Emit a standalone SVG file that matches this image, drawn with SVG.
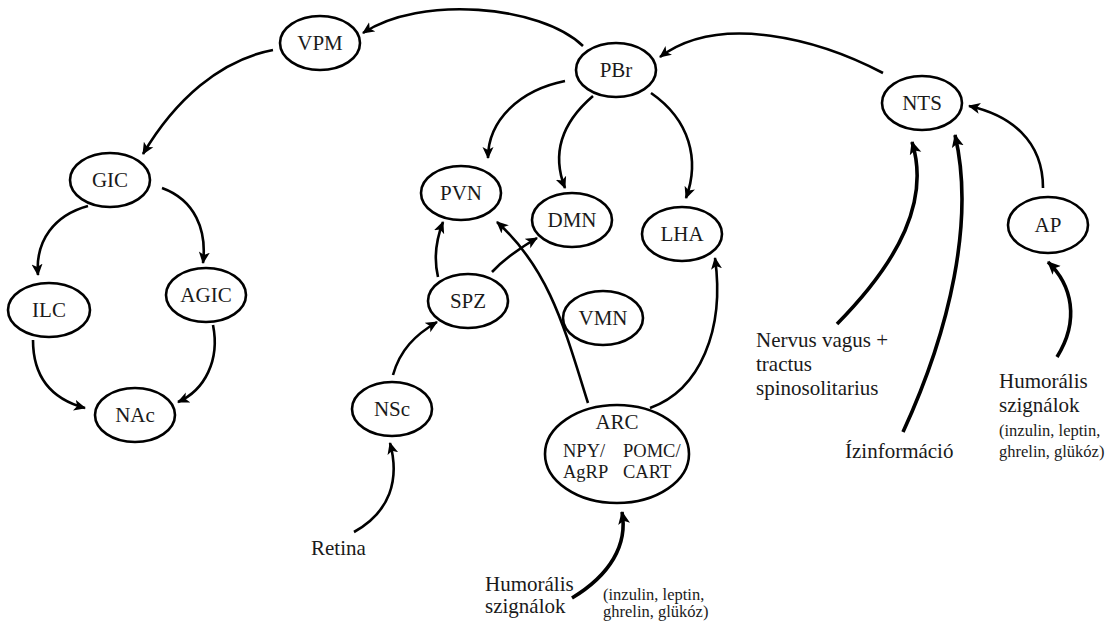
<svg xmlns="http://www.w3.org/2000/svg" width="1105" height="622" viewBox="0 0 1105 622">
<style>
.n ellipse{fill:#fff;stroke:#000;stroke-width:2.6}
.n text, text{font-family:"Liberation Serif","Times New Roman",serif;fill:#1a1a1a}
.lbl{font-size:21px;text-anchor:middle}
.big{font-size:21px}
.sm{font-size:16.5px}
.arc{font-size:18.5px}
.c path{fill:none;stroke:#000;stroke-width:2.6;marker-end:url(#ah)}
.c path.t{stroke-width:3.6;marker-end:url(#ahb)}
</style>
<defs>
<marker id="ah" markerUnits="userSpaceOnUse" viewBox="0 0 12 12" refX="11" refY="6" markerWidth="12" markerHeight="12" orient="auto">
<path d="M0,0.5 L12,6 L0,11.5 L3,6 Z" fill="#000"/>
</marker>
<marker id="ahb" markerUnits="userSpaceOnUse" viewBox="0 0 13 13" refX="12" refY="6.5" markerWidth="13" markerHeight="13" orient="auto">
<path d="M0,0.5 L13,6.5 L0,12.5 L3,6.5 Z" fill="#000"/>
</marker>
</defs>
<rect width="1105" height="622" fill="#fff"/>

<g class="c" id="connectors">
<path d="M583,46 C540,5 420,-5 363,33"/>
<path d="M883,73 C820,40 720,12 660,57"/>
<path d="M273,50 C220,60 175,100 143,154"/>
<path d="M88,206 C55,215 35,240 38,275"/>
<path d="M162,188 C195,200 207,230 203,263"/>
<path d="M33,340 C33,380 55,400 85,408"/>
<path d="M213,325 C220,360 205,390 178,402"/>
<path d="M565,81 C520,90 488,120 488,158"/>
<path d="M593,96 C565,120 550,150 565,188"/>
<path d="M651,93 C690,120 700,160 686,198"/>
<path d="M438,277 C434,260 436,240 443,222"/>
<path d="M492,272 C505,258 520,248 537,238"/>
<path d="M393,375 C400,350 415,335 437,322"/>
<path d="M588,403 C565,330 550,270 497,222"/>
<path d="M650,408 C700,390 725,330 715,258"/>
<path d="M1043,188 C1043,140 1010,115 969,106"/>
<path d="M354,532 C390,512 400,480 390,443"/>
<path class="t" d="M572,598 C610,575 628,545 622,512"/>
<path class="t" d="M837,324 C900,260 930,200 912,142"/>
<path class="t" d="M903,432 C950,330 975,220 955,135"/>
<path class="t" d="M1057,357 C1080,320 1072,285 1048,262"/>
</g>

<g class="n" id="VPM"><ellipse cx="320" cy="43" rx="40" ry="27"/><text class="lbl" x="320" y="50">VPM</text></g>
<g class="n" id="PBr"><ellipse cx="616" cy="70" rx="40" ry="27"/><text class="lbl" x="616" y="77">PBr</text></g>
<g class="n" id="NTS"><ellipse cx="922" cy="103" rx="40" ry="27"/><text class="lbl" x="922" y="110">NTS</text></g>
<g class="n" id="GIC"><ellipse cx="110" cy="180" rx="40" ry="27"/><text class="lbl" x="110" y="187">GIC</text></g>
<g class="n" id="PVN"><ellipse cx="461" cy="193" rx="40" ry="27"/><text class="lbl" x="461" y="200">PVN</text></g>
<g class="n" id="DMN"><ellipse cx="572" cy="220" rx="40" ry="27"/><text class="lbl" x="572" y="227">DMN</text></g>
<g class="n" id="LHA"><ellipse cx="682" cy="234" rx="40" ry="27"/><text class="lbl" x="682" y="241">LHA</text></g>
<g class="n" id="AP"><ellipse cx="1048" cy="225" rx="40" ry="28"/><text class="lbl" x="1048" y="232">AP</text></g>
<g class="n" id="ILC"><ellipse cx="49" cy="310" rx="41" ry="27"/><text class="lbl" x="49" y="317">ILC</text></g>
<g class="n" id="AGIC"><ellipse cx="206" cy="295" rx="40" ry="27"/><text class="lbl" x="206" y="302">AGIC</text></g>
<g class="n" id="SPZ"><ellipse cx="468" cy="301" rx="40" ry="27"/><text class="lbl" x="468" y="308">SPZ</text></g>
<g class="n" id="VMN"><ellipse cx="603" cy="318" rx="40" ry="27"/><text class="lbl" x="603" y="325">VMN</text></g>
<g class="n" id="NSc"><ellipse cx="392" cy="409" rx="40" ry="27"/><text class="lbl" x="392" y="416">NSc</text></g>
<g class="n" id="NAc"><ellipse cx="135" cy="415" rx="40" ry="27"/><text class="lbl" x="135" y="422">NAc</text></g>
<g class="n" id="ARC"><ellipse cx="617" cy="454" rx="72" ry="49"/>
<text class="lbl" x="617" y="429">ARC</text>
<text class="arc" x="563" y="457">NPY/</text><text class="arc" x="623" y="457">POMC/</text>
<text class="arc" x="563" y="478">AgRP</text><text class="arc" x="623" y="478">CART</text>
</g>

<g id="labels">
<text class="big" x="756" y="347">Nervus vagus +</text>
<text class="big" x="756" y="371">tractus</text>
<text class="big" x="756" y="395">spinosolitarius</text>
<text class="big" x="845" y="458">Ízinformáció</text>
<text class="big" x="999" y="388">Humorális</text>
<text class="big" x="999" y="412">szignálok</text>
<text class="sm" x="999" y="436">(inzulin, leptin,</text>
<text class="sm" x="999" y="457">ghrelin, glükóz)</text>
<text class="big" x="311" y="555">Retina</text>
<text class="big" x="485" y="591">Humorális</text>
<text class="big" x="485" y="613">szignálok</text>
<text class="sm" x="603" y="600">(inzulin, leptin,</text>
<text class="sm" x="603" y="617">ghrelin, glükóz)</text>
</g>
</svg>
